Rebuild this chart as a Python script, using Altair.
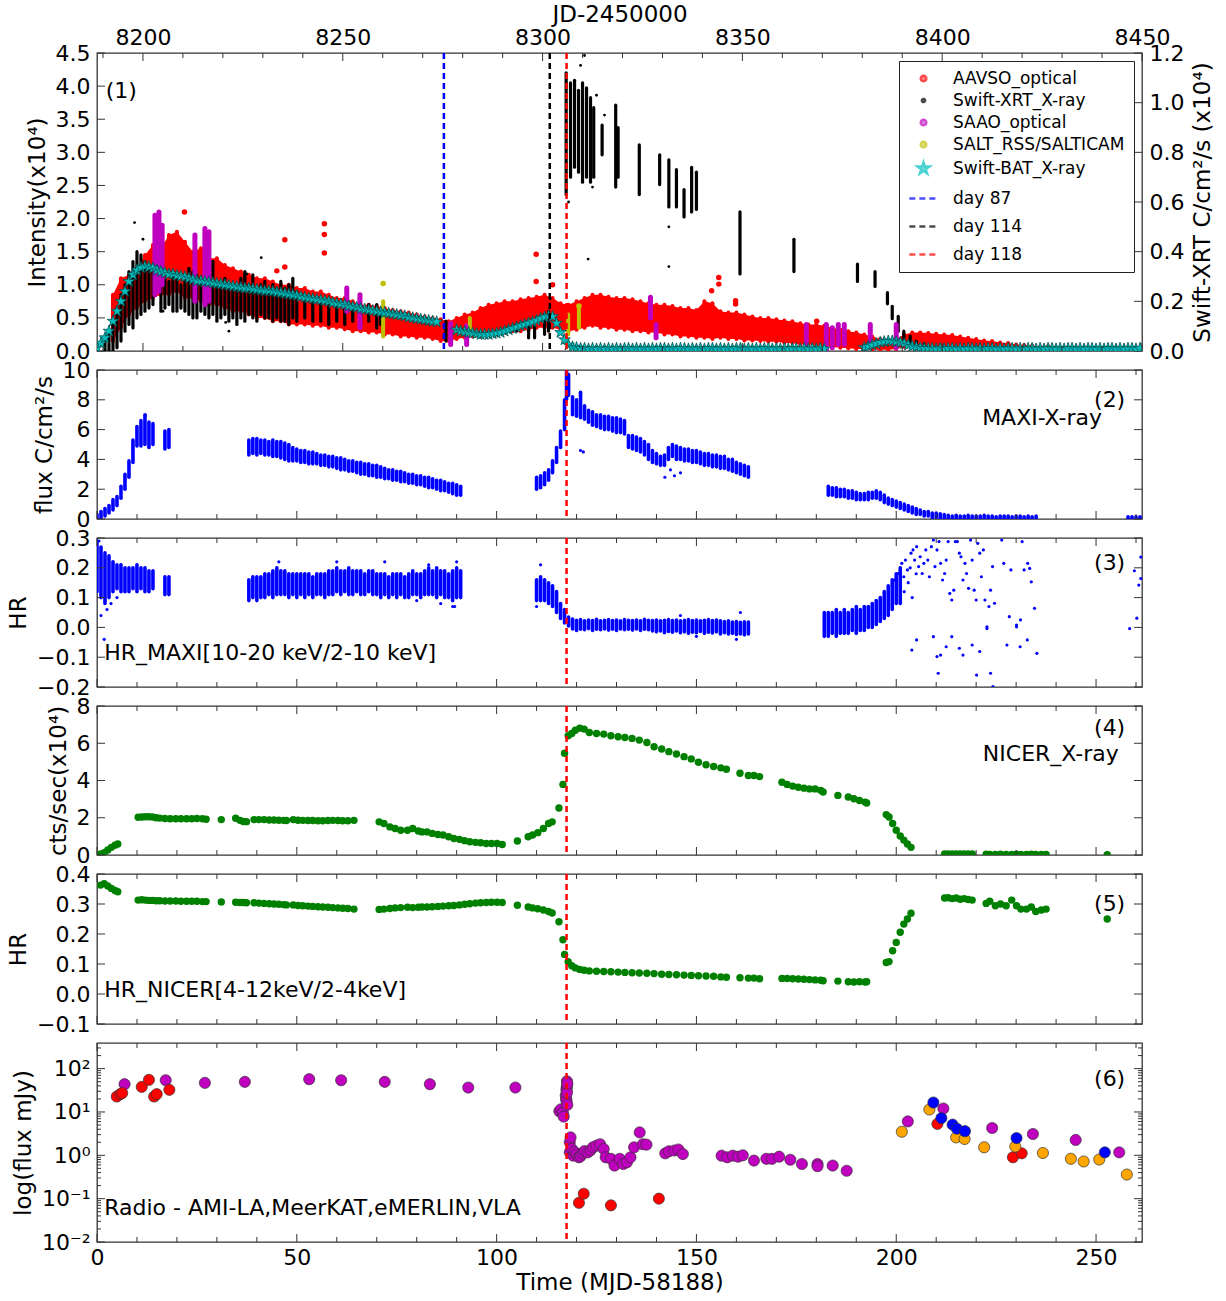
import altair as alt
import pandas as pd

FONT = "DejaVu Sans"
W = 1045
XMAX = 261.5
JD0 = 8188.5
TC = "#333333"

# ---------------- Panel (1) ----------------
# AAVSO optical: envelope of the dense cloud, read every 2 days (x1e4)
aavso_t = list(range(4, 243, 2))
aavso_lo = [0.15, 0.35, 0.55, 0.65, 0.75, 0.80, 0.85, 0.85, 0.90, 0.80,
            0.80, 0.75, 0.70, 0.70, 0.65, 0.60, 0.60, 0.55, 0.50, 0.50,
            0.45, 0.45, 0.40, 0.40, 0.40, 0.38, 0.38, 0.35, 0.35, 0.33,
            0.30, 0.30, 0.28, 0.28, 0.25, 0.25, 0.22, 0.22, 0.20, 0.20,
            0.18, 0.15, 0.15, 0.18, 0.20, 0.22, 0.22, 0.25, 0.25, 0.28,
            0.30, 0.30, 0.32, 0.35, 0.35, 0.35, 0.32, 0.30, 0.32, 0.35,
            0.38, 0.35, 0.35, 0.32, 0.32, 0.30, 0.30, 0.28, 0.28, 0.25,
            0.25, 0.22, 0.22, 0.20, 0.20, 0.18, 0.20, 0.18, 0.18, 0.16,
            0.16, 0.15, 0.14, 0.14, 0.12, 0.12, 0.10, 0.10, 0.08, 0.08,
            0.06, 0.05, 0.04, 0.03, 0.03, 0.02, 0.02, 0.02, 0.03, 0.06,
            0.08, 0.08, 0.08, 0.07, 0.06, 0.05, 0.05, 0.04, 0.03, 0.03,
            0.02, 0.02, 0.01, 0.01, 0.01, 0.00, 0.00, 0.00, 0.00, 0.00]
aavso_hi = [0.85, 1.10, 1.15, 1.25, 1.45, 1.60, 1.55, 1.75, 1.80, 1.65,
            1.50, 1.55, 1.40, 1.40, 1.30, 1.25, 1.20, 1.15, 1.10, 1.10,
            1.05, 1.00, 1.00, 0.95, 0.95, 0.90, 0.90, 0.85, 0.80, 0.80,
            0.75, 0.70, 0.70, 0.68, 0.65, 0.62, 0.60, 0.58, 0.55, 0.52,
            0.50, 0.48, 0.45, 0.50, 0.55, 0.58, 0.65, 0.70, 0.72, 0.75,
            0.75, 0.78, 0.80, 0.82, 0.85, 0.80, 0.72, 0.70, 0.75, 0.80,
            0.85, 0.85, 0.82, 0.80, 0.80, 0.78, 0.75, 0.72, 0.70, 0.70,
            0.68, 0.65, 0.65, 0.62, 0.75, 0.72, 0.60, 0.58, 0.58, 0.55,
            0.52, 0.50, 0.50, 0.48, 0.46, 0.45, 0.42, 0.40, 0.40, 0.38,
            0.35, 0.32, 0.30, 0.28, 0.25, 0.22, 0.18, 0.16, 0.18, 0.25,
            0.28, 0.28, 0.27, 0.26, 0.25, 0.24, 0.22, 0.20, 0.18, 0.16,
            0.15, 0.13, 0.12, 0.10, 0.09, 0.08, 0.06, 0.07, 0.05, 0.05]
aavso_pt_t = [21.9, 56.9, 56.9, 56.9, 47.0, 47.0, 45.0, 109.9, 109.9, 114.0,
              153.8, 155.6, 155.6, 159.8, 159.8, 180.1]
aavso_pt_v = [2.10, 1.92, 1.76, 1.48, 1.68, 1.27, 1.21, 1.46, 1.05, 1.00,
              0.91, 1.11, 1.01, 0.76, 0.71, 0.45]

# Swift-XRT (right axis, x1e4): vertical extent of each observation cluster
xrt_t = [2, 3, 4, 5, 6, 7, 8, 9, 10, 11, 12, 13, 14, 16, 17, 18, 19, 20, 21, 22,
         23, 24, 25, 26, 27, 28, 29, 30, 31, 32, 33, 34, 35, 36, 37, 38, 39, 40, 41, 42,
         43, 44, 45, 46, 47, 48, 49, 50, 52, 54, 56, 58, 60, 62, 64, 66, 68, 70, 71,
         87.3, 105, 108, 109.5, 112, 113,
         117.4, 118.5, 119.5, 120.5, 121.5, 122.5, 123.5, 124.3, 126.4, 129.8, 130.4,
         135.7, 140.8, 143.1, 145.0, 146.9, 148.8, 150.0, 160.9, 174.4, 190.3, 194.7,
         197.8, 199.0, 200.5, 201.9, 203.5, 205.0, 207.0]
xrt_lo = [0.00, 0.00, 0.00, 0.013, 0.04, 0.08, 0.107, 0.093, 0.133, 0.147, 0.16, 0.173, 0.187,
          0.16, 0.173, 0.187, 0.16, 0.16, 0.173, 0.16, 0.147, 0.133, 0.133, 0.16, 0.147, 0.133,
          0.147, 0.12, 0.133, 0.147, 0.12, 0.133, 0.107, 0.133, 0.12, 0.147, 0.133, 0.12, 0.147,
          0.133, 0.133, 0.12, 0.133, 0.12, 0.12, 0.107, 0.133, 0.12, 0.133, 0.12, 0.12, 0.107,
          0.12, 0.107, 0.12, 0.107, 0.12, 0.093, 0.107,
          0.04, 0.08, 0.053, 0.053, 0.067, 0.08,
          0.63, 0.70, 0.74, 0.72, 0.68, 0.70, 0.68, 0.70, 0.79, 0.66, 0.70,
          0.63, 0.67, 0.58, 0.58, 0.54, 0.56, 0.57, 0.31, 0.32, 0.28, 0.26,
          0.19, 0.13, 0.08, 0.04, 0.02, 0.01, 0.00]
xrt_hi = [0.04, 0.08, 0.12, 0.173, 0.227, 0.267, 0.32, 0.36, 0.40, 0.387, 0.36, 0.347, 0.32,
          0.307, 0.293, 0.28, 0.32, 0.293, 0.267, 0.293, 0.333, 0.32, 0.307, 0.293, 0.307, 0.267,
          0.36, 0.267, 0.28, 0.293, 0.267, 0.253, 0.267, 0.293, 0.32, 0.267, 0.307, 0.253, 0.267,
          0.28, 0.253, 0.267, 0.253, 0.28, 0.253, 0.267, 0.293, 0.24, 0.227, 0.213, 0.213, 0.20,
          0.20, 0.187, 0.187, 0.173, 0.187, 0.187, 0.16,
          0.12, 0.107, 0.107, 0.10, 0.147, 0.16,
          1.12, 1.08, 1.09, 1.05, 1.08, 1.06, 1.02, 0.98, 0.91, 0.99, 0.90,
          0.83, 0.79, 0.77, 0.73, 0.65, 0.74, 0.72, 0.56, 0.45, 0.35, 0.32,
          0.235, 0.18, 0.14, 0.08, 0.06, 0.04, 0.03]
xrt_pt_t = [122.0, 121.0, 113.4, 122.9, 143.1, 143.1, 9.4, 11.5, 29.0, 37.5, 41.1,
            32.2, 33.0, 16.5, 118.0, 124.0, 125.0, 127.0]
xrt_pt_v = [1.19, 1.15, 0.21, 0.37, 0.50, 0.34, 0.517, 0.45, 0.36, 0.31, 0.376,
            0.115, 0.08, 0.16, 0.60, 0.66, 1.03, 0.95]

# SAAO optical (magenta) observation runs
saao_t = [14.5, 15.5, 16.3, 24.5, 27.0, 28.0, 62.5, 65.8, 88.5, 92.5, 138.5, 139.9,
          177.5, 182.5, 184.0, 185.5, 187.0, 193.5, 200.0]
saao_lo = [0.85, 0.90, 1.00, 0.75, 0.70, 0.75, 0.60, 0.35, 0.10, 0.10, 0.50, 0.20,
           0.10, 0.00, 0.05, 0.10, 0.10, 0.15, 0.05]
saao_hi = [2.05, 2.10, 1.90, 1.75, 1.85, 1.80, 0.95, 0.85, 0.42, 0.38, 0.81, 0.40,
           0.40, 0.40, 0.35, 0.40, 0.40, 0.40, 0.40]

# SALT RSS / SALTICAM (olive)
salt_t = [71.6, 93.3, 117.9, 120.6]
salt_lo = [0.22, 0.25, 0.25, 0.35]
salt_hi = [0.75, 0.50, 0.55, 0.65]
salt_pt_t = [71.6, 120.6]
salt_pt_v = [1.02, 0.68]

# Swift-BAT daily values (stars)
bat_t = list(range(0, 86)) + list(range(90, 183)) + list(range(192, 262))
bat_v = [0.05, 0.12, 0.20, 0.30, 0.45, 0.60, 0.75, 0.90, 1.05, 1.15,
         1.22, 1.26, 1.28, 1.27, 1.25, 1.22, 1.20, 1.18, 1.16, 1.16,
         1.14, 1.13, 1.12, 1.10, 1.08, 1.06, 1.06, 1.05, 1.04, 1.03,
         1.02, 1.01, 1.00, 0.99, 0.98, 0.97, 0.96, 0.95, 0.95, 0.94,
         0.93, 0.92, 0.91, 0.91, 0.90, 0.89, 0.88, 0.87, 0.86, 0.85,
         0.84, 0.82, 0.81, 0.80, 0.79, 0.78, 0.77, 0.76, 0.75, 0.73,
         0.72, 0.71, 0.70, 0.68, 0.67, 0.66, 0.64, 0.63, 0.62, 0.61,
         0.60, 0.59, 0.58, 0.57, 0.56, 0.55, 0.54, 0.53, 0.51, 0.50,
         0.49, 0.48, 0.47, 0.46, 0.45, 0.44,
         0.32, 0.30, 0.29, 0.28, 0.27, 0.26, 0.25, 0.25, 0.25, 0.26,
         0.27, 0.28, 0.30, 0.32, 0.34, 0.36, 0.38, 0.40, 0.42, 0.44,
         0.46, 0.49, 0.51, 0.53, 0.52, 0.42, 0.28, 0.17, 0.09, 0.06,
         0.05, 0.04, 0.04, 0.03, 0.04, 0.03, 0.04, 0.03, 0.04, 0.03,
         0.04, 0.03, 0.04, 0.04, 0.03, 0.04, 0.03, 0.04, 0.03, 0.04,
         0.03, 0.04, 0.04, 0.03, 0.04, 0.03, 0.04, 0.04, 0.03, 0.04,
         0.03, 0.04, 0.03, 0.04, 0.04, 0.03, 0.04, 0.03, 0.04, 0.03,
         0.04, 0.04, 0.03, 0.04, 0.03, 0.04, 0.03, 0.04, 0.04, 0.03,
         0.04, 0.03, 0.04, 0.03, 0.04, 0.04, 0.03, 0.04, 0.03, 0.04,
         0.03, 0.04, 0.03,
         0.05, 0.07, 0.09, 0.11, 0.13, 0.14, 0.15, 0.15, 0.14, 0.13,
         0.11, 0.09, 0.07, 0.06, 0.05, 0.04, 0.04, 0.04, 0.03, 0.04,
         0.03, 0.04, 0.04, 0.03, 0.04, 0.03, 0.04, 0.04, 0.03, 0.04,
         0.03, 0.04, 0.04, 0.03, 0.04, 0.03, 0.04, 0.04, 0.03, 0.04,
         0.03, 0.04, 0.04, 0.03, 0.04, 0.03, 0.04, 0.04, 0.03, 0.04,
         0.03, 0.04, 0.04, 0.03, 0.04, 0.03, 0.04, 0.04, 0.03, 0.04,
         0.03, 0.04, 0.04, 0.03, 0.04, 0.03, 0.04, 0.04, 0.03, 0.04]

day_t = [86.8, 113.3, 117.5]
day_col = ["#0000ff", "#000000", "#ff0000"]

SER = ["AAVSO_optical", "Swift-XRT_X-ray", "SAAO_optical", "SALT_RSS/SALTICAM",
       "Swift-BAT_X-ray", "day 87", "day 114", "day 118"]
SER_COL = ["#ff0000", "#000000", "#bf00bf", "#bfbf00", "#00bfbf", "#0000ff", "#000000", "#ff0000"]

# ---------------- Panel (2) MAXI ----------------
maxi_t = (list(range(0, 15)) + [17, 18] + list(range(38, 92)) +
          [110, 111, 112, 113, 114, 115, 116, 117, 117.5, 118] + list(range(119, 164)) +
          list(range(183, 236)) + [258, 259, 260, 261])
maxi_lo = ([0.0, 0.1, 0.2, 0.4, 0.6, 0.9, 1.4, 2.0, 2.8, 3.8, 4.9, 4.9, 5.0, 4.8, 5.0] + [4.7, 4.8] +
           [4.3, 4.4, 4.3, 4.4, 4.3, 4.3, 4.2, 4.2, 4.1, 4.0,
            3.9, 3.9, 3.9, 3.8, 3.8, 3.7, 3.7, 3.7, 3.6, 3.6,
            3.5, 3.5, 3.4, 3.3, 3.3, 3.2, 3.2, 3.1, 3.0, 3.0,
            2.9, 2.9, 2.8, 2.8, 2.7, 2.7, 2.6, 2.6, 2.5, 2.5,
            2.4, 2.4, 2.3, 2.3, 2.2, 2.1, 2.1, 2.0, 1.9, 1.9,
            1.8, 1.7, 1.6, 1.6] +
           [2.0, 2.1, 2.3, 2.6, 3.1, 3.8, 4.8, 6.0, 8.0, 8.3] +
           [7.0, 6.9, 6.8, 6.7, 6.5, 6.3, 6.2, 6.1, 6.0, 6.0,
            5.9, 5.8, 5.8, 5.7, 4.8, 4.7, 4.6, 4.5, 4.3, 4.0,
            3.8, 3.7, 3.6, 3.6, 4.0, 4.2, 4.0, 4.0, 3.9, 3.9,
            3.8, 3.8, 3.7, 3.6, 3.6, 3.5, 3.5, 3.4, 3.4, 3.3,
            3.2, 3.1, 3.0, 2.9, 2.8] +
           [1.6, 1.6, 1.5, 1.5, 1.5, 1.4, 1.4, 1.3, 1.3, 1.3,
            1.3, 1.4, 1.4, 1.3, 1.1, 1.0, 0.9, 0.8, 0.7, 0.6,
            0.5, 0.4, 0.3, 0.3, 0.2, 0.2, 0.1, 0.1, 0.05, 0.0,
            0, 0, 0, 0, 0, 0, 0, 0, 0, 0, 0, 0, 0, 0, 0, 0, 0, 0, 0, 0, 0, 0, 0] +
           [0.0, 0.0, 0.0, 0.0])
maxi_hi = ([0.3, 0.5, 0.7, 0.9, 1.3, 1.5, 2.2, 3.0, 3.9, 5.3, 6.2, 6.6, 7.0, 6.5, 6.4] + [5.9, 6.0] +
           [5.3, 5.4, 5.4, 5.3, 5.3, 5.2, 5.3, 5.2, 5.2, 5.1,
            5.0, 4.8, 4.7, 4.6, 4.6, 4.5, 4.5, 4.4, 4.3, 4.3,
            4.2, 4.2, 4.1, 4.1, 4.0, 3.9, 3.9, 3.8, 3.8, 3.7,
            3.7, 3.6, 3.6, 3.5, 3.4, 3.3, 3.3, 3.2, 3.2, 3.1,
            3.0, 3.0, 2.9, 2.9, 2.8, 2.8, 2.7, 2.6, 2.6, 2.5,
            2.4, 2.4, 2.3, 2.2] +
           [2.8, 2.9, 3.1, 3.3, 3.9, 4.8, 5.9, 8.0, 9.9, 9.7] +
           [8.2, 8.0, 8.5, 7.6, 7.3, 7.2, 7.0, 7.0, 6.9, 6.9,
            6.8, 6.8, 6.7, 6.6, 5.6, 5.6, 5.5, 5.4, 5.2, 5.0,
            4.6, 4.4, 4.2, 4.3, 4.8, 5.0, 4.9, 4.8, 4.7, 4.7,
            4.6, 4.6, 4.5, 4.4, 4.4, 4.3, 4.3, 4.2, 4.2, 4.0,
            4.0, 3.8, 3.7, 3.6, 3.5] +
           [2.2, 2.1, 2.1, 2.0, 2.0, 1.9, 1.9, 1.8, 1.7, 1.7,
            1.8, 1.8, 1.9, 1.8, 1.6, 1.4, 1.3, 1.2, 1.1, 1.0,
            0.9, 0.8, 0.7, 0.6, 0.5, 0.5, 0.4, 0.4, 0.35, 0.3,
            0.25, 0.2, 0.25, 0.2, 0.2, 0.25, 0.2, 0.2, 0.2, 0.25,
            0.2, 0.2, 0.15, 0.2, 0.2, 0.2, 0.15, 0.2, 0.2, 0.15, 0.2, 0.15, 0.2] +
           [0.15, 0.15, 0.15, 0.15])
maxi_pt_t = [12.1, 121.0, 121.7, 142.1, 143.5, 144.5, 146.0]
maxi_pt_v = [6.96, 4.6, 4.5, 2.8, 3.3, 2.9, 3.1]

# ---------------- Panel (3) HR MAXI ----------------
hr_t = list(range(0, 15)) + [17, 18] + list(range(38, 92)) + list(range(110, 164)) + list(range(182, 202))
hr_lo = ([0.12, 0.10, 0.08, 0.10, 0.12, 0.13, 0.12, 0.12, 0.12, 0.13, 0.12, 0.13, 0.12, 0.12, 0.13] +
         [0.11, 0.11] +
         [0.09, 0.10, 0.09, 0.10, 0.10, 0.11, 0.10, 0.11, 0.11, 0.11,
          0.10, 0.11, 0.10, 0.11, 0.10, 0.11, 0.10, 0.11, 0.11, 0.10,
          0.11, 0.11, 0.12, 0.11, 0.12, 0.11, 0.11, 0.12, 0.11, 0.11,
          0.12, 0.11, 0.11, 0.10, 0.11, 0.10, 0.11, 0.10, 0.11, 0.10,
          0.10, 0.11, 0.11, 0.10, 0.11, 0.11, 0.11, 0.10, 0.11, 0.10,
          0.10, 0.09, 0.10, 0.10] +
         [0.09, 0.09, 0.09, 0.08, 0.07, 0.05, 0.03, 0.015, 0.005] +
         [-0.005, -0.010, -0.006, -0.008, -0.004, -0.010, -0.006, -0.008, -0.005, -0.009,
          -0.006, -0.010, -0.005, -0.008, -0.006, -0.009, -0.005, -0.010, -0.006, -0.008,
          -0.012, -0.015, -0.012, -0.018, -0.014, -0.016, -0.012, -0.018, -0.015, -0.020,
          -0.016, -0.018, -0.014, -0.020, -0.016, -0.019, -0.015, -0.022, -0.018, -0.022,
          -0.020, -0.024, -0.022, -0.025, -0.022] +
         [-0.03, -0.03, -0.02, -0.03, -0.02, -0.02, -0.02, -0.01, -0.02, -0.01,
          -0.01, 0.00, 0.00, 0.01, 0.02, 0.03, 0.04, 0.06, 0.08, 0.08])
hr_hi = ([0.29, 0.27, 0.25, 0.24, 0.22, 0.21, 0.21, 0.20, 0.20, 0.20, 0.21, 0.20, 0.20, 0.19, 0.19] +
         [0.17, 0.17] +
         [0.16, 0.17, 0.17, 0.17, 0.18, 0.18, 0.19, 0.20, 0.19, 0.19,
          0.18, 0.18, 0.18, 0.18, 0.18, 0.18, 0.17, 0.18, 0.18, 0.18,
          0.19, 0.19, 0.20, 0.19, 0.19, 0.20, 0.19, 0.19, 0.19, 0.18,
          0.19, 0.19, 0.18, 0.18, 0.18, 0.17, 0.18, 0.18, 0.18, 0.17,
          0.18, 0.19, 0.18, 0.18, 0.19, 0.20, 0.19, 0.20, 0.19, 0.19,
          0.18, 0.19, 0.20, 0.19] +
         [0.16, 0.17, 0.16, 0.15, 0.14, 0.12, 0.08, 0.06, 0.035] +
         [0.028, 0.024, 0.026, 0.022, 0.025, 0.023, 0.027, 0.022, 0.024, 0.026,
          0.023, 0.025, 0.022, 0.026, 0.024, 0.023, 0.025, 0.022, 0.027, 0.024,
          0.023, 0.025, 0.022, 0.024, 0.026, 0.023, 0.025, 0.022, 0.024, 0.026,
          0.023, 0.025, 0.022, 0.024, 0.026, 0.023, 0.025, 0.022, 0.020, 0.022,
          0.018, 0.020, 0.017, 0.019, 0.018] +
         [0.05, 0.05, 0.05, 0.06, 0.05, 0.06, 0.05, 0.06, 0.07, 0.06,
          0.07, 0.07, 0.08, 0.09, 0.10, 0.12, 0.14, 0.16, 0.18, 0.20])
hr_pt_t = [1.8, 1.0, 2.5, 3.5, 0.5, 5.0, 45.5, 60.0, 72.0, 83.0, 90.0, 89.0, 89.5, 86.0, 80.0,
           111.0, 110.0, 161.0, 160.0, 150.0, 146.0,
           199.6, 200.5, 201.4, 201.9, 202.3, 202.8, 203.7, 204.2, 204.6, 205.1, 205.6, 206.0,
           206.5, 206.9, 207.4, 207.9, 208.3, 208.8, 209.3, 209.7, 210.2, 210.7, 211.1, 211.6,
           212.1, 212.5, 213.0, 213.4, 213.9, 214.4, 214.8, 215.3, 215.8, 216.2, 216.7, 217.2,
           217.6, 218.1, 218.6, 219.0, 219.5, 220.0, 220.4, 220.9, 221.3, 221.8, 222.2, 222.7,
           223.2, 223.6, 224.1, 224.6, 226.4, 226.9, 228.3, 228.7, 230.1, 231.1, 231.5, 232.0,
           232.9, 233.4, 233.8, 234.6, 235.2,
           203.9, 205.1, 209.3, 210.2, 210.5, 211.1, 212.5, 213.9, 215.8, 216.7, 219.0, 220.1,
           220.9, 223.6, 224.2, 222.7, 227.7, 230.1, 231.0, 232.8,
           202.0, 203.0, 204.0, 205.0, 203.5,
           258.4, 259.6, 260.2, 260.7, 261.2, 261.2]
hr_pt_v = [-0.04, 0.04, 0.06, 0.08, 0.29, 0.10, 0.22, 0.22, 0.22, 0.21, 0.22, 0.07, 0.07, 0.08, 0.09,
           0.21, 0.07, 0.05, -0.04, -0.03, 0.04,
           0.159, 0.181, 0.215, 0.170, 0.226, 0.193, 0.249, 0.260, 0.226, 0.271, 0.204, 0.237,
           0.181, 0.215, 0.260, 0.226, 0.170, 0.271, 0.293, 0.204, 0.260, 0.288, 0.215, 0.159,
           0.181, 0.226, 0.288, 0.114, 0.092, 0.125, 0.288, 0.288, 0.249, 0.237, 0.159, 0.215,
           0.181, 0.131, 0.293, 0.226, 0.125, 0.092, 0.282, 0.249, 0.170, 0.260, 0.092, 0.002,
           0.070, 0.125, 0.204, 0.081, 0.293, 0.215, 0.036, 0.193, 0.002, 0.025, 0.288, 0.193,
           0.215, 0.198, 0.153, 0.064, -0.087,
           -0.076, -0.042, -0.031, -0.098, -0.154, -0.093, -0.065, -0.031, -0.070, -0.093, -0.059, -0.160,
           -0.081, -0.154, -0.199, -0.004, -0.059, 0.008, -0.065, -0.042,
           0.12, 0.15, 0.10, 0.18, 0.20,
           -0.004, 0.190, 0.031, 0.142, 0.236, 0.164]

# ---------------- Panels (4) and (5) NICER ----------------
nicer_t = [0.9, 1.8, 2.7, 3.6, 4.5, 5.2,
           10.3, 11.2, 12.1, 13.0, 13.9, 14.8, 15.7, 17.0, 18.3, 19.7, 21.0, 22.4, 23.7, 25.0, 26.4, 27.3,
           31.1,
           34.7, 35.8, 36.6, 37.4,
           39.3, 40.5, 41.8, 43.1, 44.3, 45.5, 46.7, 47.4,
           49.1, 50.3, 51.5, 52.8, 54.0, 55.3, 56.5, 57.8, 59.0, 60.3, 61.5, 62.8, 64.3,
           70.6, 71.8, 73.3, 74.6, 76.0, 77.7, 79.0, 80.4, 81.3,
           82.6, 83.9, 85.3, 86.6, 88.0, 89.3, 90.7, 92.0, 93.3, 94.7, 96.0, 97.4, 98.7, 100.1, 101.4,
           105.2, 107.9, 109.0, 110.3, 111.7, 113.0, 113.9,
           115.6, 116.6, 117.0, 117.9, 118.8, 119.7, 120.8, 121.9, 123.2, 125.0, 126.8, 128.6, 130.4, 132.1, 133.9, 135.7,
           137.6, 139.4, 141.3, 143.1, 145.0, 146.9, 148.7, 150.5, 152.4, 154.3, 156.1, 157.5,
           160.9, 163.0, 164.4, 165.8,
           171.4, 172.7, 174.1, 175.5, 176.9, 178.3, 179.7, 181.1, 181.7,
           185.4, 188.0, 189.4, 190.8, 192.2, 192.6,
           197.5, 198.2, 199.1, 200.0, 201.0, 201.9, 202.8, 203.7,
           212.1, 213.0, 214.0, 215.0, 216.0, 217.0, 218.0, 219.0,
           222.5, 223.4, 224.8, 226.1, 227.5, 228.9, 230.1, 231.2, 232.6, 233.8, 234.9, 236.3, 237.5,
           252.8]
nicer_rate = [0.05, 0.12, 0.27, 0.41, 0.53, 0.59,
              2.03, 2.04, 2.05, 2.05, 2.04, 2.00, 1.98, 1.96, 1.95, 1.95, 1.95, 1.95, 1.95, 1.96, 1.95, 1.92,
              1.90,
              1.97, 1.86, 1.80, 1.79,
              1.90, 1.90, 1.90, 1.88, 1.88, 1.87, 1.86, 1.85,
              1.90, 1.87, 1.86, 1.85, 1.85, 1.84, 1.84, 1.85, 1.86, 1.85, 1.84, 1.84, 1.86,
              1.78, 1.69, 1.51, 1.42, 1.33, 1.33, 1.42, 1.29, 1.24,
              1.24, 1.16, 1.10, 1.07, 0.98, 0.89, 0.84, 0.77, 0.71, 0.68, 0.66, 0.62, 0.62, 0.62, 0.56,
              0.75, 0.98, 1.07, 1.20, 1.42, 1.69, 1.78,
              2.52, 3.79, 5.46, 6.40, 6.52, 6.70, 6.81, 6.76, 6.58, 6.52, 6.49, 6.40, 6.35, 6.31, 6.26, 6.17,
              6.04, 5.81, 5.69, 5.55, 5.42, 5.28, 5.16, 4.98, 4.85, 4.75, 4.68, 4.60,
              4.39, 4.27, 4.27, 4.21,
              3.91, 3.79, 3.70, 3.64, 3.59, 3.55, 3.55, 3.47, 3.38,
              3.20, 3.11, 3.02, 2.93, 2.84, 2.79,
              2.17, 2.04, 1.69, 1.33, 1.02, 0.80, 0.59, 0.41,
              0.06, 0.05, 0.05, 0.06, 0.05, 0.05, 0.06, 0.05,
              0.04, 0.03, 0.03, 0.04, 0.03, 0.03, 0.04, 0.03, 0.03, 0.04, 0.03, 0.03, 0.03,
              0.02]
nicer_hr = [0.363, 0.368, 0.360, 0.352, 0.345, 0.341,
            0.313, 0.314, 0.313, 0.312, 0.312, 0.311, 0.311, 0.310, 0.310, 0.310, 0.309, 0.309, 0.309, 0.309, 0.308, 0.308,
            0.307,
            0.306, 0.305, 0.305, 0.304,
            0.304, 0.303, 0.302, 0.301, 0.300, 0.299, 0.298, 0.297,
            0.297, 0.295, 0.294, 0.293, 0.292, 0.291, 0.290, 0.289, 0.288, 0.287, 0.286, 0.285, 0.283,
            0.282, 0.283, 0.285, 0.287, 0.288, 0.289, 0.288, 0.289, 0.290,
            0.290, 0.291, 0.292, 0.293, 0.294, 0.295, 0.297, 0.299, 0.301, 0.303, 0.304, 0.305, 0.306, 0.306, 0.305,
            0.296, 0.290, 0.287, 0.284, 0.280, 0.275, 0.270,
            0.241, 0.181, 0.132, 0.108, 0.094, 0.087, 0.082, 0.079, 0.077, 0.076, 0.075, 0.074, 0.073, 0.072, 0.071, 0.070,
            0.069, 0.068, 0.066, 0.065, 0.064, 0.063, 0.062, 0.061, 0.060, 0.059, 0.057, 0.056,
            0.054, 0.053, 0.053, 0.051,
            0.052, 0.052, 0.051, 0.050, 0.049, 0.048, 0.047, 0.046, 0.044,
            0.043, 0.041, 0.040, 0.041, 0.040, 0.041,
            0.105, 0.108, 0.144, 0.172, 0.206, 0.233, 0.250, 0.269,
            0.320, 0.321, 0.318, 0.320, 0.316, 0.318, 0.315, 0.313,
            0.302, 0.309, 0.294, 0.300, 0.294, 0.313, 0.294, 0.283, 0.283, 0.290, 0.275, 0.280, 0.283,
            0.250]

# ---------------- Panel (6) Radio (mJy) ----------------
radio_red_t = [4.95, 5.84, 6.3, 11.2, 13.0, 14.3, 14.95, 18.1, 120.6, 121.8, 128.6, 140.6, 210.3, 229.2, 231.4]
radio_red_f = [22.7, 25.8, 27.2, 37.9, 55.0, 22.7, 25.8, 32.4, 0.080, 0.13, 0.070, 0.10, 5.3, 0.90, 1.11]
radio_mag_t = [6.9, 17.2, 27.0, 37.0, 53.1, 61.1, 72.0, 83.3, 92.9, 104.7,
               115.7, 116.1, 116.6, 116.8, 117.3, 117.4, 117.5, 117.5, 117.5, 117.6, 117.6, 117.6, 117.7, 117.7,
               118.3, 118.3, 118.5, 118.8, 119.2, 119.5, 120.0, 120.6, 121.0, 121.5, 122.0, 122.8, 123.5, 124.1,
               125.0, 125.9, 126.8, 127.3, 128.6, 129.5, 130.8, 131.7, 132.6, 133.5, 134.4, 135.8, 136.6, 137.5,
               142.2, 143.1, 144.5, 145.5, 146.6, 156.3, 157.7, 159.1, 160.4, 161.6, 164.4, 167.5, 168.9, 170.7,
               173.5, 176.4, 180.3, 180.3, 184.1, 187.6,
               202.9, 211.8, 224.0, 234.2, 244.9, 255.8]
radio_mag_f = [43.7, 54.0, 46.9, 49.5, 57.0, 54.0, 49.5, 43.7, 36.6, 36.6,
               10.4, 11.5, 9.5, 7.8, 24.0, 20.0, 31.0, 18.0, 35.0, 51.0, 40.0, 28.0, 14.6, 45.0,
               1.99, 1.17, 2.59, 1.40, 0.98, 1.20, 1.05, 0.90, 0.95, 1.10, 1.25, 1.17, 1.30, 1.53,
               1.67, 1.80, 1.40, 0.90, 0.83, 0.58, 0.83, 0.63, 0.69, 0.90, 1.53, 3.38, 1.80, 1.76,
               1.11, 1.24, 1.29, 1.36, 1.07, 0.98, 0.90, 0.98, 0.93, 1.00, 0.755, 0.83, 0.83, 0.93,
               0.79, 0.63, 0.63, 0.56, 0.58, 0.44,
               6.05, 12.0, 4.26, 3.10, 2.26, 1.17]
radio_blue_t = [209.3, 211.3, 214.1, 215.2, 217.2, 230.1, 252.2]
radio_blue_f = [16.5, 7.2, 5.1, 4.1, 3.6, 2.5, 1.17]
radio_orange_t = [201.4, 208.3, 215.0, 217.1, 222.0, 229.8, 236.7, 243.7, 246.9, 250.8, 257.7]
radio_orange_f = [3.5, 11.4, 2.59, 2.38, 1.53, 1.6, 1.13, 0.83, 0.72, 0.8, 0.36]

# tick positions (matplotlib-style inward ticks)
XT_MAJOR = [0, 50, 100, 150, 200, 250]
XT_MINOR = [10, 20, 30, 40, 60, 70, 80, 90, 110, 120, 130, 140, 160, 170, 180, 190,
            210, 220, 230, 240, 260]
JD_MAJOR = [8200, 8250, 8300, 8350, 8400, 8450]
JD_MINOR = [8190, 8210, 8220, 8230, 8240, 8260, 8270, 8280, 8290, 8310, 8320, 8330, 8340,
            8360, 8370, 8380, 8390, 8410, 8420, 8430, 8440]
LOG_MINOR = [0.02, 0.03, 0.04, 0.05, 0.06, 0.07, 0.08, 0.09,
             0.2, 0.3, 0.4, 0.5, 0.6, 0.7, 0.8, 0.9,
             2, 3, 4, 5, 6, 7, 8, 9, 20, 30, 40, 50, 60, 70, 80, 90, 200, 300]

STAR = ("M0,-1L0.2245,-0.309L0.9511,-0.309L0.3633,0.118L0.5878,0.809L0,0.382"
        "L-0.5878,0.809L-0.3633,0.118L-0.9511,-0.309L-0.2245,-0.309Z")
DASH = [6, 4]


def xq(axis=None):
    return alt.X("t:Q", scale=alt.Scale(domain=[0, XMAX], nice=False, zero=False), axis=axis)


def yq(field, dom, axis=None, log=False):
    if log:
        sc = alt.Scale(type="log", domain=dom, nice=False)
    else:
        sc = alt.Scale(domain=dom, nice=False, zero=False)
    return alt.Y(f"{field}:Q", scale=sc, axis=axis)


def band_layer(t, lo, hi, color, width, dom, ay=None, cap="butt", ax=None):
    df = pd.DataFrame({"t": t, "lo": lo, "hi": hi})
    return alt.Chart(df).mark_rule(color=color, strokeWidth=width, strokeCap=cap, clip=True).encode(
        x=xq(ax), y=yq("lo", dom, ay), y2=alt.Y2("hi"))


def area_layer(t, lo, hi, color, dom, ay=None):
    df = pd.DataFrame({"t": t, "lo": lo, "hi": hi})
    return alt.Chart(df).mark_area(color=color, opacity=1, clip=True, interpolate="linear").encode(
        x=xq(), y=yq("lo", dom, ay), y2=alt.Y2("hi"))


def dot_layer(t, v, color, size, dom, ay=None, log=False, ax=None):
    df = pd.DataFrame({"t": t, "v": v})
    return alt.Chart(df).mark_circle(color=color, size=size, opacity=1, clip=True).encode(
        x=xq(ax), y=yq("v", dom, ay, log))


def text_layer(labels, t, v, align, dom, ay=None, log=False, ax=None):
    df = pd.DataFrame({"t": t, "v": v, "label": labels})
    return alt.Chart(df).mark_text(align=align, baseline="middle", font=FONT, fontSize=22,
                                   color="black").encode(
        x=xq(ax), y=yq("v", dom, ay, log), text="label:N")


def red_rule(ax=None):
    return alt.Chart(pd.DataFrame({"t": [day_t[2]]})).mark_rule(
        color="#ff0000", strokeWidth=2.5, strokeDash=DASH).encode(x=xq(ax))


def yticks(values, dom, ay, sides=("left", "right"), log=False, size=8):
    df = pd.DataFrame({"v": values})
    out = []
    for side in sides:
        xpos = size / 2 if side == "left" else W - size / 2
        out.append(alt.Chart(df).mark_tick(orient="horizontal", size=size, thickness=1, color=TC,
                                           opacity=1).encode(
            y=yq("v", dom, ay, log), x=alt.value(xpos)))
    return out


def xticks(values, H, ax=None, size=8):
    df = pd.DataFrame({"t": values})
    out = []
    for ypos in (size / 2, H - size / 2):
        out.append(alt.Chart(df).mark_tick(orient="vertical", size=size, thickness=1, color=TC,
                                           opacity=1).encode(x=xq(ax), y=alt.value(ypos)))
    return out


def panel_xticks(H, ax=None):
    return xticks(XT_MAJOR, H, ax, 8) + xticks(XT_MINOR, H, ax, 5)


# ---------- Panel 1 ----------
H1 = 298
P1 = [0, 4.5]
XRT = [0, 1.2]
P1_TICKS = [0, 0.5, 1, 1.5, 2, 2.5, 3, 3.5, 4, 4.5]
XRT_TICKS = [0, 0.2, 0.4, 0.6, 0.8, 1.0, 1.2]
ax1 = alt.Axis(title="Intensity(x10⁴)", values=P1_TICKS, format=".1f")
ax1r = alt.Axis(title="Swift-XRT C/cm²/s (x10⁴)", orient="right", values=XRT_TICKS, format=".1f",
                titleAngle=270, titleBaseline="top", titlePadding=8)

A = alt.layer(
    area_layer(aavso_t, aavso_lo, aavso_hi, "#ff0000", P1, ax1),
    band_layer(aavso_t, aavso_lo, aavso_hi, "#ff0000", 4, P1, ax1, "round"),
    dot_layer(aavso_pt_t, aavso_pt_v, "#ff0000", 30, P1, ax1),
    *yticks(P1_TICKS, P1, ax1, sides=("left",)),
)
B = alt.layer(
    band_layer(xrt_t, xrt_lo, xrt_hi, "#000000", 3.2, XRT, ax1r, "round"),
    dot_layer(xrt_pt_t, xrt_pt_v, "#000000", 8, XRT, ax1r),
    *yticks(XRT_TICKS, XRT, ax1r, sides=("right",)),
)

bat_df = pd.DataFrame({"t": bat_t, "v": bat_v})
bat = alt.Chart(bat_df).mark_point(shape=STAR, filled=True, size=150, color="#00bfbf",
                                   stroke="#005050", strokeWidth=0.8, opacity=1, clip=True).encode(
    x=xq(), y=yq("v", P1))

days = alt.Chart(pd.DataFrame({"t": day_t, "col": day_col})).mark_rule(
    strokeWidth=2.5, strokeDash=DASH).encode(x=xq(), color=alt.Color("col:N", scale=None))

LEG = alt.Legend(title=None, orient="top-right", offset=8, fillColor="white", strokeColor="#222222",
                 padding=9, labelFontSize=17, labelFont=FONT, labelColor="black", rowPadding=4,
                 symbolStrokeWidth=2.5, labelOffset=14, cornerRadius=0, labelLimit=260)
leg_df = pd.DataFrame({"series": SER, "t": [None] * 8, "v": [None] * 8})
legend_layer = alt.Chart(leg_df).mark_point(filled=True).encode(
    x=xq(), y=yq("v", P1),
    fill=alt.Fill("series:N", scale=alt.Scale(domain=SER, range=SER_COL), legend=LEG),
    stroke=alt.Stroke("series:N", scale=alt.Scale(domain=SER, range=SER_COL), legend=LEG),
    shape=alt.Shape("series:N", scale=alt.Scale(domain=SER, range=["circle"] * 4 + [STAR] + ["stroke"] * 3),
                    legend=LEG),
    size=alt.Size("series:N", scale=alt.Scale(type="ordinal", domain=SER,
                                              range=[30, 10, 30, 30, 150, 800, 800, 800]), legend=LEG),
    strokeDash=alt.StrokeDash("series:N", scale=alt.Scale(domain=SER, range=[[1, 0]] * 5 + [[6, 4]] * 3),
                              legend=LEG),
)

C = alt.layer(
    band_layer(saao_t, saao_lo, saao_hi, "#bf00bf", 5, P1, None, "round"),
    band_layer(salt_t, salt_lo, salt_hi, "#bfbf00", 4, P1, None, "round"),
    dot_layer(salt_pt_t, salt_pt_v, "#bfbf00", 30, P1),
    bat,
    days,
    legend_layer,
    text_layer(["(1)"], [2.2], [3.93], "left", P1),
)

JD_SCALE = alt.Scale(domain=[JD0, JD0 + XMAX], nice=False, zero=False)
ax_jd = alt.Axis(orient="top", title="JD-2450000", values=JD_MAJOR, format="d", labelFlush=False,
                 labelPadding=4, titlePadding=0)


def jd_ticks(values, size):
    df = pd.DataFrame({"jd": values})
    return [alt.Chart(df).mark_tick(orient="vertical", size=size, thickness=1, color=TC, opacity=1).encode(
        x=alt.X("jd:Q", scale=JD_SCALE, axis=ax_jd), y=alt.value(ypos)) for ypos in (size / 2, H1 - size / 2)]


D = alt.layer(
    *jd_ticks(JD_MAJOR, 8),
    *jd_ticks(JD_MINOR, 5),
)

p1 = alt.layer(A, B, C, D).resolve_scale(x="independent", y="independent").properties(width=W, height=H1)

# ---------- Panel 2 ----------
P2 = [0, 10]
P2_TICKS = [0, 2, 4, 6, 8, 10]
ax2 = alt.Axis(title="flux C/cm²/s", values=P2_TICKS, format="d")
p2 = alt.layer(
    band_layer(maxi_t, maxi_lo, maxi_hi, "#0000ff", 3.6, P2, ax2, "round"),
    dot_layer(maxi_pt_t, maxi_pt_v, "#0000ff", 10, P2, ax2),
    red_rule(),
    text_layer(["(2)", "MAXI-X-ray"], [257.3, 251.5], [7.97, 6.76], "right", P2, ax2),
    *yticks(P2_TICKS, P2, ax2),
    *panel_xticks(149),
).properties(width=W, height=149)

# ---------- Panel 3 ----------
P3 = [-0.2, 0.3]
P3_TICKS = [-0.2, -0.1, 0, 0.1, 0.2, 0.3]
ax3 = alt.Axis(title="HR", values=P3_TICKS, format=".1f")
p3 = alt.layer(
    band_layer(hr_t, hr_lo, hr_hi, "#0000ff", 3.6, P3, ax3, "round"),
    dot_layer(hr_pt_t, hr_pt_v, "#0000ff", 10, P3, ax3),
    red_rule(),
    text_layer(["(3)"], [257.3], [0.216], "right", P3, ax3),
    text_layer(["HR_MAXI[10-20 keV/2-10 keV]"], [1.8], [-0.086], "left", P3, ax3),
    *yticks(P3_TICKS, P3, ax3),
    *panel_xticks(149),
).properties(width=W, height=149)

# ---------- Panel 4 ----------
P4 = [0, 8]
P4_TICKS = [0, 2, 4, 6, 8]
ax4 = alt.Axis(title="cts/sec(x10⁴)", values=P4_TICKS, format="d")
p4 = alt.layer(
    dot_layer(nicer_t, nicer_rate, "#008000", 55, P4, ax4),
    red_rule(),
    text_layer(["(4)", "NICER_X-ray"], [257.3, 255.7], [6.83, 5.44], "right", P4, ax4),
    *yticks(P4_TICKS, P4, ax4),
    *panel_xticks(149),
).properties(width=W, height=149)

# ---------- Panel 5 ----------
P5 = [-0.1, 0.4]
P5_TICKS = [-0.1, 0, 0.1, 0.2, 0.3, 0.4]
ax5 = alt.Axis(title="HR", values=P5_TICKS, format=".1f")
p5 = alt.layer(
    dot_layer(nicer_t, nicer_hr, "#008000", 55, P5, ax5),
    red_rule(),
    text_layer(["(5)"], [257.3], [0.30], "right", P5, ax5),
    text_layer(["HR_NICER[4-12keV/2-4keV]"], [1.8], [0.013], "left", P5, ax5),
    *yticks(P5_TICKS, P5, ax5),
    *panel_xticks(150),
).properties(width=W, height=150)

# ---------- Panel 6 ----------
H6 = 199
P6 = [0.01, 390]
P6_TICKS = [0.01, 0.1, 1, 10, 100]
LOG_LABELS = ("datum.value >= 50 ? '10²' : datum.value >= 5 ? '10¹' : datum.value >= 0.5 ? '10⁰' : "
              "datum.value >= 0.05 ? '10⁻¹' : '10⁻²'")
ax6x = alt.Axis(title="Time (MJD-58188)", values=XT_MAJOR, format="d",
                labelFlush=False, labelPadding=5, titlePadding=3)
ax6y = alt.Axis(title="log(flux mJy)", values=P6_TICKS, labelExpr=LOG_LABELS)


def radio_layer(t, f, color):
    df = pd.DataFrame({"t": t, "v": f})
    return alt.Chart(df).mark_circle(size=125, color=color, opacity=1, stroke="#333333",
                                     strokeWidth=0.7, clip=True).encode(
        x=xq(ax6x), y=yq("v", P6, ax6y, log=True))


def log_yticks(values, size):
    df = pd.DataFrame({"v": values})
    return [alt.Chart(df).mark_tick(orient="horizontal", size=size, thickness=1, color=TC, opacity=1).encode(
        y=yq("v", P6, ax6y, log=True), x=alt.value(xpos)) for xpos in (size / 2, W - size / 2)]


p6 = alt.layer(
    radio_layer(radio_mag_t, radio_mag_f, "#bf00bf"),
    radio_layer(radio_red_t, radio_red_f, "#ff0000"),
    radio_layer(radio_orange_t, radio_orange_f, "#ffa500"),
    radio_layer(radio_blue_t, radio_blue_f, "#0000ff"),
    red_rule(ax6x),
    text_layer(["(6)"], [257.3], [58.0], "right", P6, ax6y, log=True, ax=ax6x),
    text_layer(["Radio - AMI-LA,MeerKAT,eMERLIN,VLA"], [1.8], [0.0596], "left", P6, ax6y, log=True, ax=ax6x),
    *log_yticks(P6_TICKS, 8),
    *log_yticks(LOG_MINOR, 4),
    *xticks(XT_MAJOR, H6, ax6x, 8),
    *xticks(XT_MINOR, H6, ax6x, 5),
).properties(width=W, height=H6)

chart = alt.vconcat(p1, p2, p3, p4, p5, p6, spacing=19, bounds="flush").resolve_scale(
    x="independent", y="independent", color="independent", fill="independent",
    stroke="independent", shape="independent", size="independent", strokeDash="independent",
).properties(padding={"left": 6, "top": 2, "right": 4, "bottom": 2}).configure(
    font=FONT, background="white"
).configure_view(
    stroke="#333333", strokeWidth=1.3
).configure_axis(
    labelFont=FONT, titleFont=FONT, labelFontSize=22, titleFontSize=23, titleFontWeight="normal",
    labelColor="black", titleColor="black", ticks=False, domain=False, grid=False,
    labelPadding=7, titlePadding=6
)

chart.save("out.html", embed_options={"renderer": "svg", "actions": False})
